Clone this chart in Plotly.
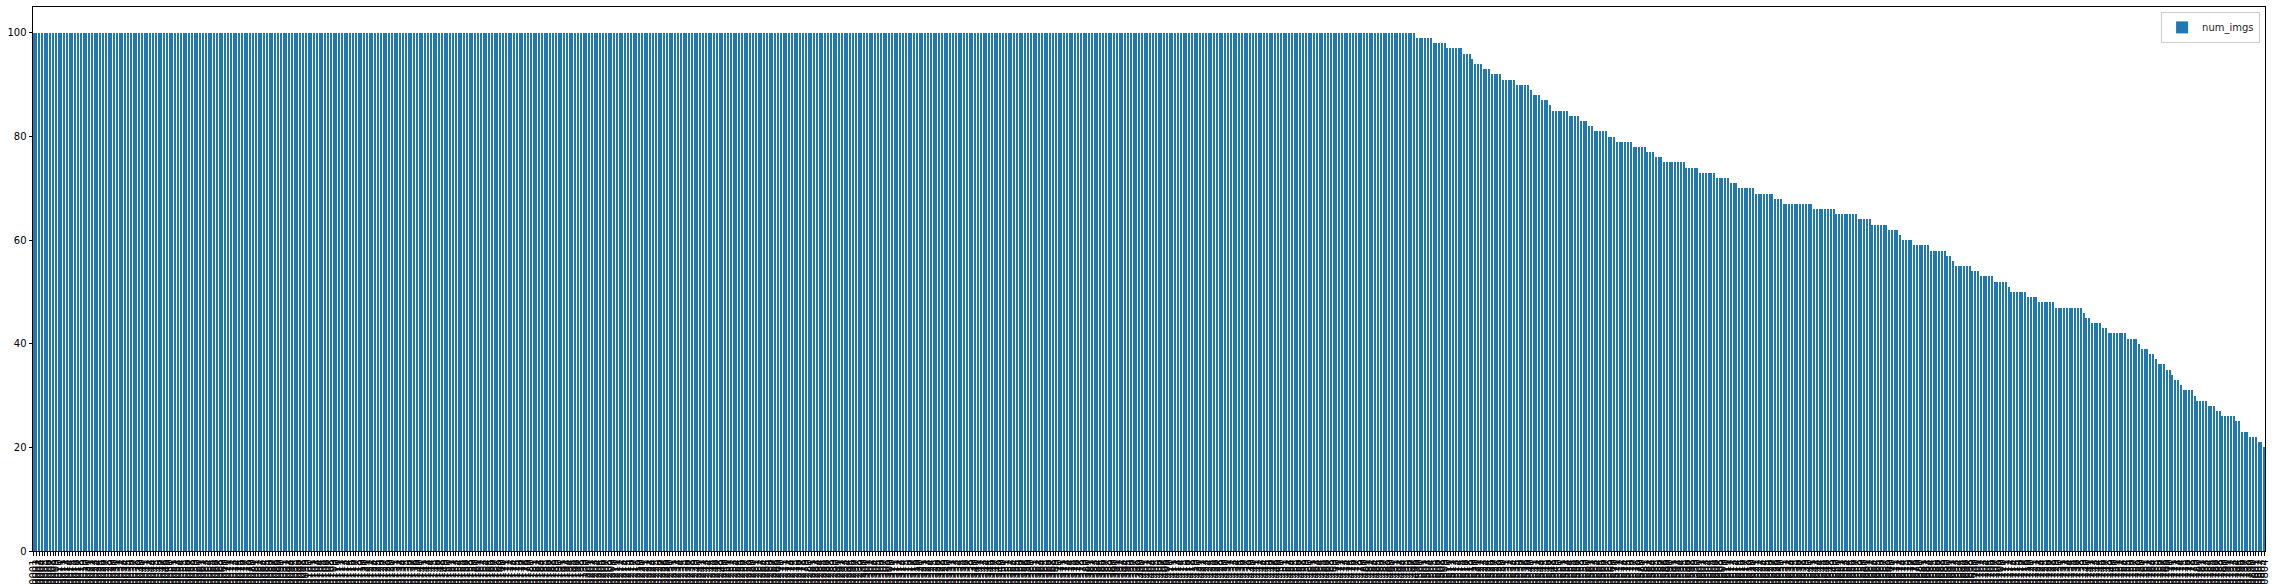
import plotly.graph_objects as go

# Sorted image counts per identity (value levels and how many bars sit at each level)
levels = [100, 99, 98, 97, 96, 95, 94, 93, 92, 91, 90, 89, 88, 87, 86, 85, 84, 83, 82, 81,
          80, 79, 78, 77, 76, 75, 74, 73, 72, 71, 70, 69, 68, 67, 66, 65, 64, 63, 62, 61,
          60, 59, 58, 57, 56, 55, 54, 53, 52, 51, 50, 49, 48, 47, 46, 45, 44, 43, 42, 41,
          40, 39, 38, 37, 36, 35, 34, 33, 32, 31, 30, 29, 28, 27, 26, 25, 23, 22, 21, 20]
counts = [498, 6, 5, 6, 3, 1, 3, 3, 4, 5, 5, 1, 3, 3, 1, 6, 4, 3, 2, 5,
          3, 6, 5, 3, 3, 8, 5, 6, 5, 3, 6, 7, 3, 11, 8, 8, 5, 6, 4, 1,
          4, 6, 6, 2, 1, 6, 3, 5, 5, 1, 6, 4, 6, 10, 1, 2, 4, 2, 7, 4,
          1, 3, 2, 1, 3, 2, 1, 2, 1, 4, 1, 4, 3, 2, 5, 2, 3, 3, 2, 1]

num_imgs = []
for v, c in zip(levels, counts):
    num_imgs.extend([v] * c)

# Category (identity) labels - unreadable in the source, identity-style ids
labels = ["n%06d" % (i + 1) for i in range(len(num_imgs))]

series_name = "num_imgs"
y_ticks = [0, 20, 40, 60, 80, 100]

N = len(num_imgs)

fig = go.Figure()
fig.add_trace(go.Bar(
    x=labels, y=num_imgs, name=series_name, width=0.5,
    marker=dict(color="#1f77b4", line=dict(width=0)),
    showlegend=True,
))

fig.update_layout(
    width=2276, height=584,
    margin=dict(l=33, r=11, t=7, b=33, autoexpand=False),
    paper_bgcolor="white", plot_bgcolor="white",
    font=dict(family="DejaVu Sans", size=10, color="black"),
    bargap=0,
    legend=dict(
        x=0.9978, y=0.991, xanchor="right", yanchor="top",
        bordercolor="#cccccc", borderwidth=1, bgcolor="white",
        font=dict(family="DejaVu Sans", size=10, color="#262626"),
        itemwidth=30, tracegroupgap=0,
    ),
)

fig.update_xaxes(
    type="category",
    range=[-0.25, N - 0.75],
    tickmode="linear", tick0=0, dtick=1,
    tickangle=-90,
    ticks="outside", ticklen=3.5, tickwidth=0.8, tickcolor="black",
    showline=True, mirror=True, linecolor="black", linewidth=1,
    showgrid=False, zeroline=False, automargin=False,
    tickfont=dict(family="DejaVu Sans", size=10, color="black"),
)
fig.update_yaxes(
    range=[0, 105],
    tickmode="array", tickvals=y_ticks, ticktext=[str(t) for t in y_ticks],
    ticks="outside", ticklen=3.5, tickwidth=0.8, tickcolor="black",
    showline=True, mirror=True, linecolor="black", linewidth=1,
    showgrid=False, zeroline=False, automargin=False,
    tickfont=dict(family="DejaVu Sans", size=10, color="black"),
)

fig.write_html(
    "out.html",
    config={"displayModeBar": False},
    post_script="document.body.style.margin='0';document.body.style.overflow='hidden';",
)
